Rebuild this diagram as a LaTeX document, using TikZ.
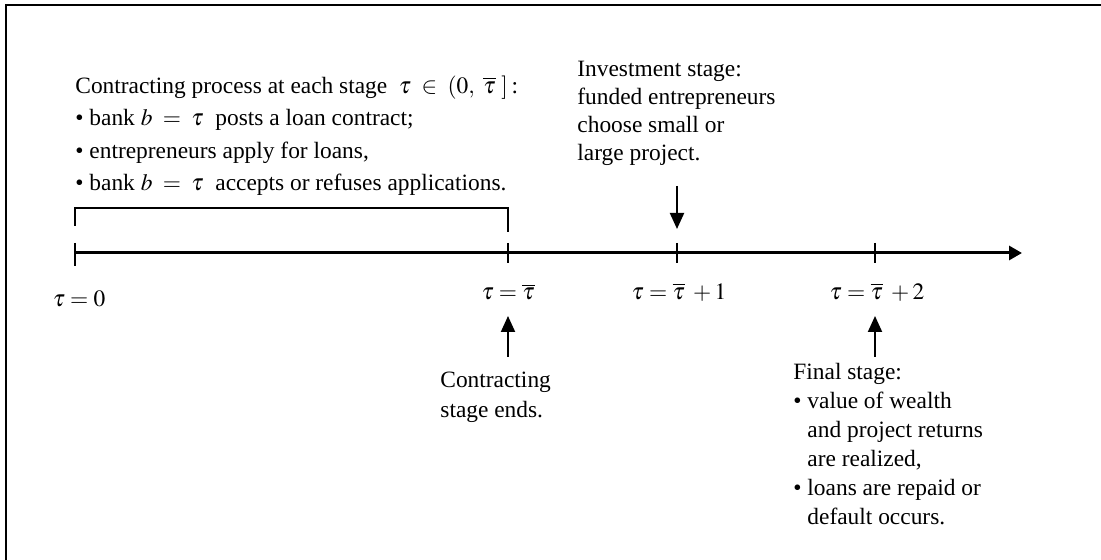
\documentclass[tikz,border=0pt]{standalone}
\usepackage{mathptmx}
\usepackage{fontspec}
\setmainfont{Liberation Serif}
\usetikzlibrary{arrows.meta}
\begin{document}
\begin{tikzpicture}[x=0.5pt,y=-0.5pt,
  txt/.style={inner sep=0pt, font=\fontsize{11.7}{16.3}\selectfont, align=left, anchor=base west},
  lab/.style={inner sep=0pt, font=\fontsize{11.7}{14}\selectfont},
  axisline/.style={line width=1.5pt, -{Triangle[length=6.5pt,width=7pt]}},
  tick/.style={line width=0.6pt},
  bracketline/.style={line width=0.7pt},
  varr/.style={line width=1pt, -{Triangle[length=8pt,width=7pt]}},
  frameline/.style={line width=1.2pt}]
\useasboundingbox (0,0) rectangle (1101,560);
\draw[frameline] (6,560) -- (6,5) -- (1101,5);
% axis
\coordinate (t0) at (75,253);
\coordinate (t1) at (508,253);
\coordinate (t2) at (677,253);
\coordinate (t3) at (875,253);
\coordinate (aend) at (1022,253);
\draw[axisline] (t0) -- (aend);
\draw[tick] ([yshift=5pt]t0) -- ([yshift=-6.5pt]t0);
\foreach \t in {t1,t2,t3} \draw[tick] ([yshift=5pt]\t) -- ([yshift=-5pt]\t);
% bracket
\coordinate (b0) at (75,226);
\coordinate (b1) at (75,208);
\coordinate (b2) at (508,208);
\coordinate (b3) at (508,232);
\draw[bracketline] (b0) -- (b1) -- (b2) -- (b3);
% labels on axis
\node[lab] (l0) at (79,299) {$\tau=0$};
\node[lab] (l1) at (508,292) {$\tau=\overline{\tau}$};
\node[lab] (l2) at (679,292) {$\tau=\overline{\tau}\;+1$};
\node[lab] (l3) at (877,292) {$\tau=\overline{\tau}\;+2$};
% arrows
\coordinate (d0) at (677,186);
\coordinate (d1) at (677,229);
\draw[varr] (d0) -- (d1);
\coordinate (u0) at (508,357);
\coordinate (u1) at (508,316);
\draw[varr] (u0) -- (u1);
\coordinate (v0) at (875,357);
\coordinate (v1) at (875,316);
\draw[varr] (v0) -- (v1);
% text blocks (anchored at the baseline of their last line)
\node[txt] (cp) at (75,191) {Contracting process at each stage\enspace$\tau\;\in\;(0,\ \overline{\tau}\ ]$\,:\\
\textbullet{} bank $b\;=\;\tau$\enspace posts a loan contract;\\
\textbullet{} entrepreneurs apply for loans,\\
\textbullet{} bank $b\;=\;\tau$\enspace accepts or refuses applications.};
\node[txt, font=\fontsize{11.7}{14}\selectfont] (inv) at (577,161) {Investment stage:\\funded entrepreneurs\\choose small or\\large project.};
\node[txt, font=\fontsize{11.7}{14.5}\selectfont] (ce) at (440,417) {Contracting\\stage ends.};
\node[txt, font=\fontsize{11.7}{14.5}\selectfont] (fs) at (793,524) {Final stage:\\
\textbullet{} value of wealth\\
\phantom{\textbullet{} }and project returns\\
\phantom{\textbullet{} }are realized,\\
\textbullet{} loans are repaid or\\
\phantom{\textbullet{} }default occurs.};
\end{tikzpicture}
\end{document}
